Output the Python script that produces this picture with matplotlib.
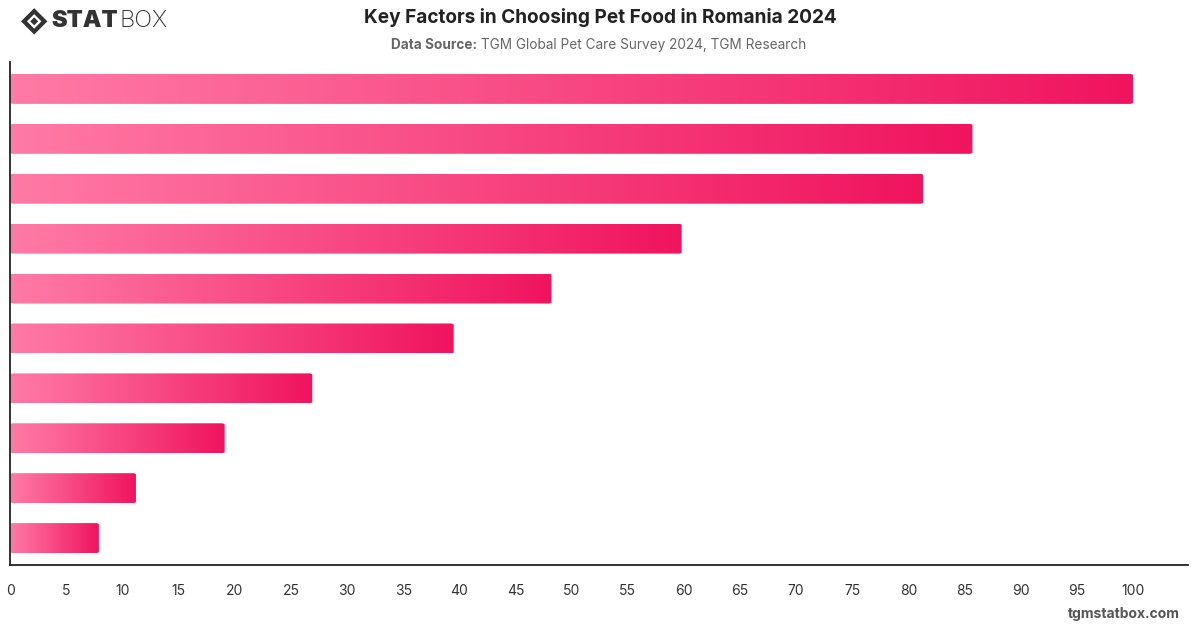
import matplotlib

matplotlib.use("Agg")
import matplotlib.pyplot as plt
import numpy as np
from matplotlib.colors import LinearSegmentedColormap
from matplotlib.patches import FancyBboxPatch, Polygon

plt.rcParams["font.family"] = ["Inter", "DejaVu Sans"]

TITLE = "Key Factors in Choosing Pet Food in Romania 2024"
SOURCE_LABEL = "Data Source:"
SOURCE_TEXT = "TGM Global Pet Care Survey 2024, TGM Research"

# bar values, top to bottom (category names are not shown in the chart)
values = [100, 85.7, 81.3, 59.8, 48.2, 39.5, 26.9, 19.1, 11.2, 7.9]
x_ticks = list(range(0, 101, 5))

gradient = LinearSegmentedColormap.from_list("pink", ["#ff7aa6", "#f0145f"])

figure = plt.figure(figsize=(12, 6.28), dpi=100)
axis = figure.add_axes([0.0085, 0.1003, 0.9815, 0.8010])

bar_height = 0.6
ramp = np.linspace(0, 1, 256).reshape(1, -1)
for i, value in enumerate(values):
    y0 = i - bar_height / 2
    box = FancyBboxPatch(
        (0, y0), value, bar_height,
        boxstyle="round,pad=0,rounding_size=0.3",
        mutation_aspect=0.09,
        facecolor="none", edgecolor="none",
    )
    axis.add_patch(box)
    image = axis.imshow(
        ramp, cmap=gradient, aspect="auto",
        extent=(0, value, y0 + bar_height, y0), interpolation="bilinear",
    )
    image.set_clip_path(box)

axis.set_xlim(0, 104.9)
axis.set_ylim(9.54, -0.54)
axis.set_xticks(x_ticks)
axis.set_xticklabels([str(t) for t in x_ticks])
axis.set_yticks([])
axis.tick_params(axis="x", length=0, pad=14, labelsize=10, labelcolor="#333333")
axis.get_xticklabels()[0].set_x(0.3)
for side in ("top", "right"):
    axis.spines[side].set_visible(False)
for side in ("left", "bottom"):
    axis.spines[side].set_color("#222222")
    axis.spines[side].set_linewidth(1.3)

figure.text(0.5, 0.972, TITLE, ha="center", va="center",
            fontsize=13.7, fontweight="bold", color="#222222")
figure.text(0.3975, 0.929, SOURCE_LABEL, ha="right", va="center",
            fontsize=9.8, fontweight="bold", color="#666666")
figure.text(0.4005, 0.929, SOURCE_TEXT, ha="left", va="center",
            fontsize=9.8, color="#666666")

# logo: diamond mark + STAT + BOX
cx, cy, r = 0.0285, 0.966, 0.011
aspect = 628 / 1200
outer = Polygon([(cx - r, cy), (cx, cy + r / aspect), (cx + r, cy), (cx, cy - r / aspect)],
                closed=True, transform=figure.transFigure, facecolor="#333333",
                edgecolor="none")
inner = Polygon([(cx - r * 0.55, cy), (cx, cy + r * 0.55 / aspect),
                 (cx + r * 0.55, cy), (cx, cy - r * 0.55 / aspect)],
                closed=True, transform=figure.transFigure, facecolor="white",
                edgecolor="none")
core = Polygon([(cx - r * 0.3, cy), (cx, cy + r * 0.3 / aspect),
                (cx + r * 0.3, cy), (cx, cy - r * 0.3 / aspect)],
               closed=True, transform=figure.transFigure, facecolor="#333333",
               edgecolor="none")
for patch in (outer, inner, core):
    figure.patches.append(patch)
figure.text(0.0425, 0.966, "STAT", ha="left", va="center", fontsize=17,
            fontweight="black", color="#333333")
figure.text(0.0995, 0.966, "BOX", ha="left", va="center", fontsize=17,
            fontweight="light", color="#333333")

figure.text(0.983, 0.022, "tgmstatbox.com", ha="right", va="center",
            fontsize=10, fontweight="bold", color="#555555")

figure.savefig("out.png", dpi=100)
plt.close(figure)
